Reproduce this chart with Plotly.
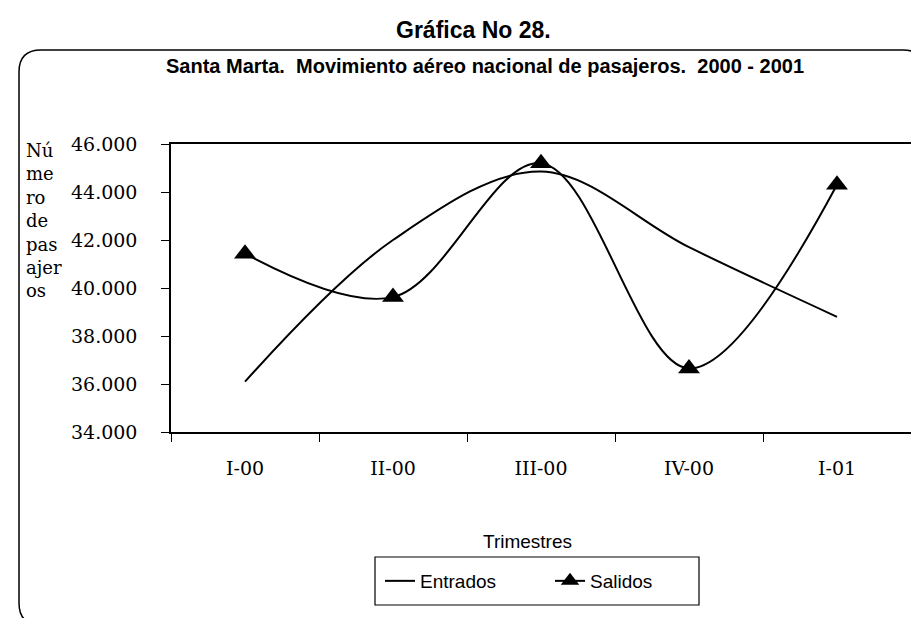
import plotly.graph_objects as go

categories = ["I-00", "II-00", "III-00", "IV-00", "I-01"]
entrados = [36100, 42000, 44850, 41700, 38800]
salidos = [41430, 39620, 45200, 36650, 44300]
y_ticks = [34000, 36000, 38000, 40000, 42000, 44000, 46000]

title_text = "Gráfica No 28."
subtitle_text = "Santa Marta.\u00a0 Movimiento aéreo nacional de pasajeros.\u00a0 2000 - 2001"
y_title = "Nú<br>me<br>ro<br>de<br>pas<br>ajer<br>os"
x_title = "Trimestres"

W, H = 919, 618
L, R, T, B = 163, 16, 136, 194
PW, PH = W - L - R, H - T - B


def px(xp):
    return (xp - L) / PW


def py(yp):
    return (H - B - yp) / PH


fig = go.Figure()
fig.add_trace(go.Scatter(
    x=categories, y=entrados, name="Entrados", mode="lines",
    line=dict(color="black", width=2, shape="spline", smoothing=1.0),
))
fig.add_trace(go.Scatter(
    x=categories, y=salidos, name="Salidos", mode="lines+markers",
    line=dict(color="black", width=2, shape="spline", smoothing=1.0),
    marker=dict(symbol="triangle-up", size=19, color="black"),
))

# rounded outer frame
bl, br, bt, bb, r = 11, 917, 42, 617, 22
path = (
    f"M {px(bl + r)},{py(bt)} L {px(br - r)},{py(bt)} Q {px(br)},{py(bt)} {px(br)},{py(bt + r)} "
    f"L {px(br)},{py(bb - r)} Q {px(br)},{py(bb)} {px(br - r)},{py(bb)} "
    f"L {px(bl + r)},{py(bb)} Q {px(bl)},{py(bb)} {px(bl)},{py(bb - r)} "
    f"L {px(bl)},{py(bt + r)} Q {px(bl)},{py(bt)} {px(bl + r)},{py(bt)} Z"
)

fig.update_layout(
    width=W, height=H,
    margin=dict(l=L, r=R, t=T, b=B, pad=0),
    paper_bgcolor="white", plot_bgcolor="white",
    separators=",.",
    showlegend=True,
    legend=dict(
        orientation="h", x=px(372), xanchor="left", y=py(573), yanchor="middle",
        borderwidth=0, bgcolor="rgba(0,0,0,0)",
        font=dict(family="Liberation Sans, Arial, sans-serif", size=19, color="black"),
        entrywidth=125, entrywidthmode="pixels",
    ),
    shapes=[
        dict(type="path", xref="paper", yref="paper", path=path,
             line=dict(color="black", width=1.5), layer="below"),
        dict(type="rect", xref="paper", yref="paper",
             x0=px(367), x1=px(691), y0=py(549), y1=py(597),
             line=dict(color="black", width=1.2), fillcolor="white", layer="below"),
    ],
    annotations=[
        dict(text=f"<b>{title_text}</b>", xref="paper", yref="paper", x=px(465), y=py(22),
             xanchor="center", yanchor="middle", showarrow=False,
             font=dict(family="Liberation Sans, Arial, sans-serif", size=23, color="black")),
        dict(text=f"<b>{subtitle_text}</b>", xref="paper", yref="paper", x=px(477), y=py(58),
             xanchor="center", yanchor="middle", showarrow=False,
             font=dict(family="Liberation Sans, Arial, sans-serif", size=20, color="black")),
        dict(text=y_title, xref="paper", yref="paper", x=px(16), y=py(130),
             xanchor="left", yanchor="top", align="left", showarrow=False,
             font=dict(family="DejaVu Serif, serif", size=18, color="black")),
        dict(text=x_title, xref="paper", yref="paper", x=px(519), y=py(533),
             xanchor="center", yanchor="middle", showarrow=False,
             font=dict(family="Liberation Sans, Arial, sans-serif", size=19, color="black")),
    ],
    xaxis=dict(
        type="category", range=[-0.5, 4.5], tickson="boundaries",
        ticks="outside", ticklen=8, tickcolor="black", tickwidth=1,
        showline=True, linecolor="black", linewidth=1.5, mirror=True,
        showgrid=False, zeroline=False, ticklabelstandoff=18,
        tickfont=dict(family="DejaVu Serif, serif", size=19, color="black"),
    ),
    yaxis=dict(
        range=[34000, 46000], tickvals=y_ticks, tickformat=",.0f",
        ticks="outside", ticklen=8, tickcolor="black", tickwidth=1,
        showline=True, linecolor="black", linewidth=1.5, mirror=True,
        showgrid=False, zeroline=False, ticklabelstandoff=20,
        tickfont=dict(family="DejaVu Serif, serif", size=19, color="black"),
    ),
)

fig.write_html("out.html")
